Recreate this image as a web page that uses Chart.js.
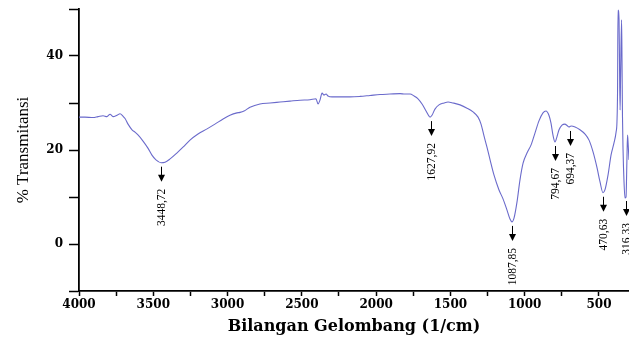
<!DOCTYPE html>
<html>
<head>
<meta charset="utf-8">
<script src="https://cdn.jsdelivr.net/npm/chart.js@4"></script>
<style>
  html, body { margin: 0; padding: 0; background: #fff; }
  #wrap { width: 629px; height: 337px; }
</style>
</head>
<body>
<div id="wrap"><canvas id="spektrum" width="629" height="337"></canvas></div>
<script>
// Data spektrum FTIR
const bilanganGelombang = [
  4000, 3960, 3906, 3872, 3838, 3812, 3791, 3771, 3744, 3724, 3704, 3690, 3670, 3643, 3623, 3603,
  3569, 3536, 3509, 3482, 3448, 3421, 3387, 3340, 3300, 3253, 3199, 3138, 3085, 3030, 2984, 2937,
  2916, 2889, 2849, 2782, 2714, 2647, 2580, 2512, 2445, 2405, 2391, 2378, 2364, 2351, 2337, 2324,
  2297, 2243, 2176, 2109, 2041, 1974, 1907, 1839, 1806, 1772, 1745, 1718, 1691, 1664, 1644, 1637,
  1624, 1604, 1577, 1543, 1516, 1482, 1435, 1388, 1348, 1314, 1294, 1274, 1254, 1233, 1207, 1173,
  1146, 1119, 1099, 1086, 1072, 1052, 1032, 1011, 984, 957, 931, 904, 877, 857, 837, 823,
  810, 796, 783, 769, 749, 729, 715, 702, 688, 661, 628, 594, 567, 540, 513, 493,
  473, 460, 439, 419, 399, 385, 379, 375, 372, 365, 362, 358, 355, 348, 345, 342,
  338, 332, 325, 318, 312, 308, 305, 298
];
const transmitansi = [
  27.0, 27.0, 26.9, 27.1, 27.3, 27.1, 27.6, 27.1, 27.4, 27.7, 27.2, 26.7, 25.5, 24.3, 23.8, 23.2,
  21.9, 20.4, 18.9, 17.9, 17.3, 17.4, 18.1, 19.4, 20.6, 22.1, 23.4, 24.5, 25.5, 26.6, 27.4, 27.9,
  28.0, 28.3, 29.1, 29.8, 30.0, 30.2, 30.4, 30.6, 30.7, 30.9, 29.8, 30.6, 32.1, 31.7, 31.9, 31.5,
  31.3, 31.3, 31.3, 31.4, 31.6, 31.8, 31.9, 32.0, 31.9, 31.9, 31.5, 30.9, 29.8, 28.3, 27.2, 27.0,
  27.4, 28.7, 29.6, 30.0, 30.2, 30.0, 29.6, 28.9, 28.1, 27.0, 25.5, 23.0, 20.6, 17.9, 14.7, 11.5,
  9.6, 7.2, 5.3, 4.7, 5.5, 8.9, 13.6, 17.2, 19.4, 21.1, 23.6, 26.2, 27.9, 28.3, 27.4, 25.7,
  23.2, 21.7, 22.8, 24.3, 25.3, 25.5, 25.2, 24.9, 25.1, 24.9, 24.3, 23.4, 22.1, 19.6, 16.2, 13.2,
  10.9, 11.5, 14.7, 18.9, 21.5, 23.8, 26.0, 32.8, 49.8, 47.7, 39.0, 28.5, 35.0, 47.7, 39.0, 27.4,
  20.0, 13.6, 9.8, 10.0, 17.9, 23.2, 22.0, 17.9
];

// Puncak serapan yang ditandai
const puncakPosisi = [3448.72, 1627.92, 1087.85, 794.67, 694.37, 470.63, 316.33];
const puncakNilai = [17.3, 27.0, 4.7, 21.7, 24.9, 10.9, 10.0];
const puncakLabel = ['3448,72', '1627,92', '1087,85', '794,67', '694,37', '470,63', '316,33'];

// Tick sumbu
const xTickMayor = [4000, 3500, 3000, 2500, 2000, 1500, 1000, 500];
const xTickMinor = [3750, 3250, 2750, 2250, 1750, 1250, 750];
const yTickLabel = [40, 20, 0];
const yTickMinor = [50, 30, 10, -10];

// Plugin: panah dan label puncak
const panahPuncak = {
  id: 'panahPuncak',
  afterDatasetsDraw(chart) {
    const { ctx, scales: { x, y } } = chart;
    ctx.save();
    ctx.strokeStyle = '#000';
    ctx.fillStyle = '#000';
    ctx.lineWidth = 1;
    puncakPosisi.forEach((wn, i) => {
      const px = Math.round(x.getPixelForValue(wn)) + 0.5;
      const y0 = y.getPixelForValue(puncakNilai[i]) + 4;
      const y1 = y0 + 15;
      ctx.beginPath();
      ctx.moveTo(px, y0);
      ctx.lineTo(px, y1 - 5);
      ctx.stroke();
      ctx.beginPath();
      ctx.moveTo(px - 3.5, y1 - 7);
      ctx.lineTo(px + 3.5, y1 - 7);
      ctx.lineTo(px, y1);
      ctx.closePath();
      ctx.fill();
      ctx.save();
      ctx.translate(px, y1 + 7);
      ctx.rotate(-Math.PI / 2);
      ctx.font = '11.5px "Liberation Serif"';
      ctx.textAlign = 'right';
      ctx.textBaseline = 'middle';
      ctx.fillText(puncakLabel[i], 0, 0);
      ctx.restore();
    });
    ctx.restore();
  }
};

new Chart(document.getElementById('spektrum'), {
  type: 'line',
  data: {
    datasets: [{
      data: bilanganGelombang.map((v, i) => ({ x: v, y: transmitansi[i] })),
      borderColor: '#6a6acb',
      borderWidth: 1.1,
      pointRadius: 0,
      cubicInterpolationMode: 'monotone',
      fill: false
    }]
  },
  options: {
    responsive: false,
    animation: false,
    layout: { padding: { top: 0, right: 0, left: 0, bottom: 0 } },
    plugins: { legend: { display: false }, tooltip: { enabled: false } },
    scales: {
      x: {
        type: 'linear',
        reverse: true,
        min: 298,
        max: 4000,
        afterBuildTicks: s => {
          s.ticks = [...xTickMayor, ...xTickMinor].sort((a, b) => a - b).map(v => ({ value: v }));
        },
        afterFit: s => { s.height = 46; },
        ticks: {
          autoSkip: false,
          maxRotation: 0,
          color: '#000',
          font: { family: 'DejaVu Serif', size: 12, weight: 'bold' },
          padding: 2,
          callback: v => xTickMayor.includes(v) ? String(v) : ''
        },
        grid: { drawOnChartArea: false, tickLength: 5, tickColor: '#000', tickWidth: 1.5 },
        border: { color: '#000', width: 1.8 },
        title: {
          display: true,
          text: 'Bilangan Gelombang (1/cm)',
          color: '#000',
          font: { family: 'DejaVu Serif', size: 16, weight: 'bold' },
          padding: { top: 0, bottom: 1 }
        }
      },
      y: {
        min: -10,
        max: 50,
        afterBuildTicks: s => {
          s.ticks = [...yTickLabel, ...yTickMinor].sort((a, b) => a - b).map(v => ({ value: v }));
        },
        afterFit: s => { s.width = 79; },
        ticks: {
          autoSkip: false,
          color: '#000',
          // lineHeight kecil agar label tidak menambah padding atas
          font: { family: 'DejaVu Serif', size: 12, weight: 'bold', lineHeight: 0.5 },
          padding: 6,
          callback: v => yTickLabel.includes(v) ? String(v) : ''
        },
        grid: { drawOnChartArea: false, tickLength: 10, tickColor: '#000', tickWidth: 1.5 },
        border: { color: '#000', width: 1.8 },
        title: {
          display: true,
          text: '% Transmitansi',
          color: '#000',
          font: { family: 'Liberation Serif', size: 17 },
          padding: { top: 13, bottom: 0 }
        }
      }
    }
  },
  plugins: [panahPuncak]
});
</script>
</body>
</html>
